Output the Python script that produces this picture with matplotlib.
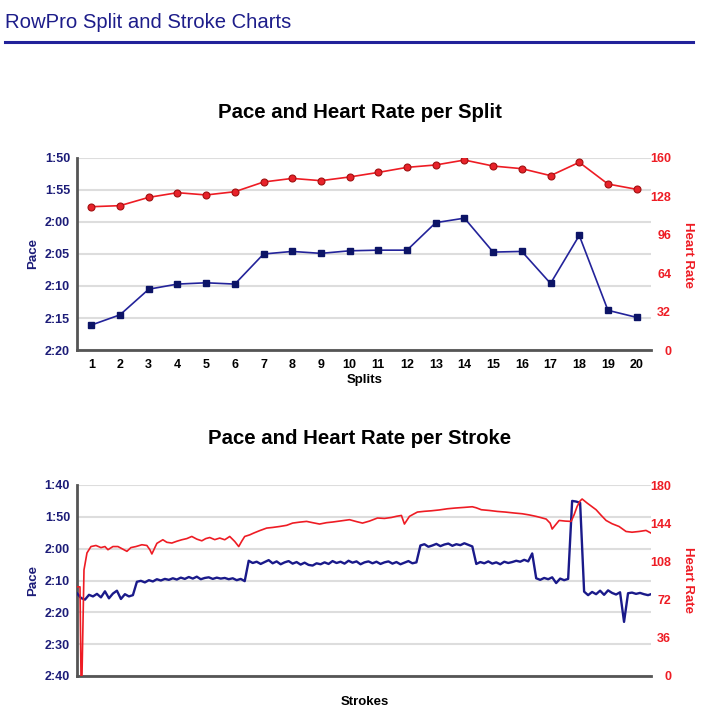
import matplotlib
matplotlib.use("Agg")
import matplotlib.pyplot as plt
from matplotlib.ticker import FuncFormatter
from matplotlib.lines import Line2D

plt.rcParams['font.family'] = ['Liberation Sans', 'DejaVu Sans']

NAVY = "#1c1c78"
RED = "#ee1c24"
GRID = "#dddddd"
AXIS = "#555555"

# per split data (pace in seconds per 500m, heart rate in bpm)
splits = list(range(1, 21))
split_pace = [136.1, 134.5, 130.5, 129.7, 129.5, 129.7, 125.0, 124.6, 124.9, 124.5,
              124.4, 124.4, 120.1, 119.4, 124.7, 124.6, 129.6, 122.1, 133.8, 134.9]
split_hr = [119.4, 120.3, 127.2, 131.1, 129.2, 131.9, 140.0, 143.0, 141.1, 144.2,
            148.0, 152.2, 154.2, 158.3, 153.3, 151.1, 145.3, 156.4, 138.3, 133.9]

# per stroke pace, one value every 8 strokes
stroke_pace = [134.0, 135.5, 136.0, 134.5, 135.0, 134.2, 135.3, 133.4, 135.6, 134.1,
               133.2, 135.8, 134.3, 135.0, 134.6, 130.4, 130.1, 130.6, 129.9, 130.3,
               129.6, 130.0, 129.5, 129.8, 129.3, 129.7, 129.1, 129.5, 128.9, 129.4,
               128.8, 129.6, 129.2, 129.0, 129.5, 129.1, 129.4, 129.2, 129.6, 129.3,
               129.9, 129.5, 130.2, 123.8, 124.5, 124.1, 124.8, 124.2, 123.6, 124.6,
               124.0, 124.9, 124.3, 123.9, 124.7, 124.2, 125.0, 124.4, 125.1, 125.3,
               124.6, 124.9, 124.3, 124.8, 123.9, 124.5, 124.1, 124.7, 123.8, 124.4,
               124.0, 124.9, 124.3, 124.0, 124.6, 124.1, 124.8, 124.3, 124.0, 124.7,
               124.2, 124.9, 124.4, 123.9, 124.6, 124.3, 119.0, 118.6, 119.4, 119.0,
               118.5, 119.2, 118.7, 118.4, 119.1, 118.6, 118.9, 118.3, 118.8, 119.3,
               124.8, 124.2, 124.6, 124.0, 124.7, 124.3, 124.9, 124.1, 124.5, 124.2,
               123.8, 124.1, 123.5, 124.0, 121.5, 129.3, 129.8, 129.2, 129.6, 129.0,
               130.8, 129.4, 129.9, 129.5, 105.0, 105.2, 105.6, 133.5, 134.6, 133.6,
               134.3, 133.2, 134.5, 133.1, 133.9, 134.4, 133.7, 143.0, 134.0, 133.8,
               134.2, 133.9, 134.3, 134.6, 134.2]
pace_strokes = [8 * i for i in range(len(stroke_pace))]

# heart rate read at stroke numbers
hr_strokes = [0, 6, 8, 10, 14, 20, 28, 38, 48, 56,
              62, 72, 82, 90, 100, 108, 118, 130, 140, 146,
              150, 154, 160, 172, 180, 190, 200, 210, 220, 230,
              240, 250, 258, 266, 276, 286, 296, 306, 316, 324,
              330, 336, 346, 354, 366, 380, 392, 406, 420, 432,
              446, 460, 472, 486, 500, 512, 526, 546, 560, 572,
              586, 602, 616, 630, 640, 650, 656, 666, 674, 682,
              696, 710, 726, 742, 758, 776, 792, 800, 810, 826,
              842, 858, 876, 892, 906, 920, 930, 940, 948, 952,
              958, 966, 978, 990, 996, 1002, 1008, 1012, 1022, 1032,
              1040, 1050, 1060, 1072, 1086, 1100, 1112, 1126, 1140, 1150]
stroke_hr = [84, 84, 0, 0, 100, 116, 122, 123, 121, 122,
             119, 122, 122, 120, 117.5, 121, 122, 123.7, 123, 119,
             115, 119, 125, 128.4, 126, 125.3, 127, 128.4, 129.5, 131.5,
             129, 127.4, 129.5, 130.5, 128.5, 130, 128.4, 131.5, 126.8, 122,
             127, 131.5, 133, 134.7, 137, 139.4, 140, 140.9, 142, 144.1,
             145, 145.7, 144.5, 143.2, 144.5, 145.1, 146, 147.3, 145.5, 144.1,
             146, 148.9, 148.5, 149.4, 150.5, 151.3, 143.2, 150.4, 152.5, 154.5,
             155.2, 155.7, 156.5, 157.6, 158.3, 158.9, 159.5, 158.5, 156.7, 156,
             155.1, 154.5, 153.6, 152.9, 151.8, 150.4, 149.2, 147.9, 144, 138.5,
             142, 146.6, 146, 145.7, 152, 159.8, 165, 166.8, 163, 159.5,
             156.7, 151.5, 146.6, 143.5, 140.9, 136.2, 135.5, 136.2, 137.2, 134.7]


def mmss(v, pos=None):
    v = int(round(v))
    return "%d:%02d" % (v // 60, v % 60)


def style_axes(ax, ax2, pace_ticks, hr_ticks):
    ax.set_ylim(pace_ticks[-1], pace_ticks[0])
    ax.set_yticks(pace_ticks)
    ax.yaxis.set_major_formatter(FuncFormatter(mmss))
    ax.grid(axis="y", color=GRID, lw=1.5)
    ax.set_axisbelow(True)
    for s in ["top", "right"]:
        ax.spines[s].set_visible(False)
    for s in ["left", "bottom"]:
        ax.spines[s].set_color(AXIS)
        ax.spines[s].set_linewidth(2)
    ax.tick_params(axis="y", length=0, pad=5, labelsize=9, labelcolor=NAVY)
    for lab in ax.get_yticklabels():
        lab.set_fontweight("bold")

    ax2.set_ylim(hr_ticks[0], hr_ticks[-1])
    ax2.set_yticks(hr_ticks)
    for s in ax2.spines.values():
        s.set_visible(False)
    ax2.tick_params(axis="y", length=0, pad=14.5, labelsize=9, labelcolor=RED)
    for lab in ax2.get_yticklabels():
        lab.set_fontweight("bold")
        lab.set_horizontalalignment("right")


fig = plt.figure(figsize=(7.11, 7.15), dpi=100)
W, H = 711, 715

def px_axes(x0, y0, x1, y1):
    return fig.add_axes([x0 / W, 1 - y1 / H, (x1 - x0) / W, (y1 - y0) / H])

# header
fig.text(5 / W, 1 - 22 / H, "RowPro Split and Stroke Charts", fontsize=14.6,
         color="#1d1d8a", ha="left", va="center")
fig.add_artist(Line2D([5 / W, 693 / W], [1 - 41.5 / H, 1 - 41.5 / H],
                      color="#22229a", lw=2.2, transform=fig.transFigure))

# ---- per split chart ----
ax = px_axes(77, 158, 651, 350)
ax2 = ax.twinx()
style_axes(ax, ax2, [110, 115, 120, 125, 130, 135, 140], [0, 32, 64, 96, 128, 160])
ax.set_xlim(0.5, 20.5)
ax.set_xticks(splits)
ax.tick_params(axis="x", length=0, pad=6.5, labelsize=9)
for lab in ax.get_xticklabels():
    lab.set_fontweight("bold")
ax.plot(splits, split_pace, color="#23239a", lw=1.2, marker="s", ms=5,
        mfc="#0c1466", mec="#0c1466", zorder=3)
ax2.plot(splits, split_hr, color=RED, lw=1.2, marker="o", ms=5,
         mfc="#e8222a", mec="#a01010", mew=0.8, zorder=3)

fig.text(360 / W, 1 - 113 / H, "Pace and Heart Rate per Split", fontsize=14.7,
         fontweight="bold", ha="center", va="center")
fig.text(365 / W, 1 - 379.5 / H, "Splits", fontsize=9.5, fontweight="bold",
         ha="center", va="center")
fig.text(33 / W, 1 - 253 / H, "Pace", fontsize=9.5, fontweight="bold", color=NAVY,
         rotation=90, ha="center", va="center")
fig.text(688 / W, 1 - 255 / H, "Heart Rate", fontsize=9.5, fontweight="bold", color=RED,
         rotation=-90, ha="center", va="center")

# ---- per stroke chart ----
bx = px_axes(77, 485, 651, 676)
bx2 = bx.twinx()
style_axes(bx, bx2, [100, 110, 120, 130, 140, 150, 160], [0, 36, 72, 108, 144, 180])
bx.set_xlim(0, 1150)
bx.set_xticks([])
bx.plot(pace_strokes, stroke_pace, color="#1a1a8a", lw=1.7, zorder=3)
bx2.plot(hr_strokes, stroke_hr, color=RED, lw=1.2, zorder=2)

fig.text(360 / W, 1 - 438 / H, "Pace and Heart Rate per Stroke", fontsize=14.7,
         fontweight="bold", ha="center", va="center")
fig.text(365 / W, 1 - 702 / H, "Strokes", fontsize=9.5, fontweight="bold",
         ha="center", va="center")
fig.text(33 / W, 1 - 580 / H, "Pace", fontsize=9.5, fontweight="bold", color=NAVY,
         rotation=90, ha="center", va="center")
fig.text(688 / W, 1 - 580 / H, "Heart Rate", fontsize=9.5, fontweight="bold", color=RED,
         rotation=-90, ha="center", va="center")

fig.savefig("out.png", dpi=100)
